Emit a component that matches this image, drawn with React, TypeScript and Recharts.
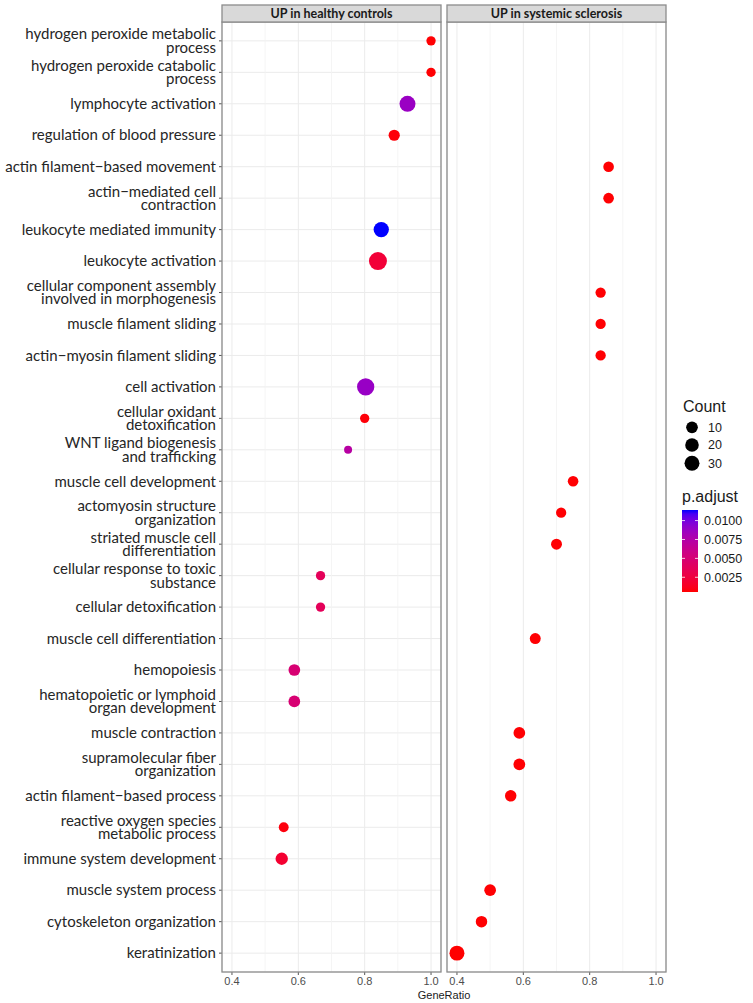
import React from 'react';
import { ScatterChart, Scatter, XAxis, YAxis, ZAxis, CartesianGrid, ReferenceLine } from 'recharts';

// ---------- data ----------
const categories = [
  'hydrogen peroxide metabolic\nprocess',
  'hydrogen peroxide catabolic\nprocess',
  'lymphocyte activation',
  'regulation of blood pressure',
  'actin filament\u2212based movement',
  'actin\u2212mediated cell\ncontraction',
  'leukocyte mediated immunity',
  'leukocyte activation',
  'cellular component assembly\ninvolved in morphogenesis',
  'muscle filament sliding',
  'actin\u2212myosin filament sliding',
  'cell activation',
  'cellular oxidant\ndetoxification',
  'WNT ligand biogenesis\nand trafficking',
  'muscle cell development',
  'actomyosin structure\norganization',
  'striated muscle cell\ndifferentiation',
  'cellular response to toxic\nsubstance',
  'cellular detoxification',
  'muscle cell differentiation',
  'hemopoiesis',
  'hematopoietic or lymphoid\norgan development',
  'muscle contraction',
  'supramolecular fiber\norganization',
  'actin filament\u2212based process',
  'reactive oxygen species\nmetabolic process',
  'immune system development',
  'muscle system process',
  'cytoskeleton organization',
  'keratinization',
];

const healthyTerms = [
  'hydrogen peroxide metabolic\nprocess',
  'hydrogen peroxide catabolic\nprocess',
  'lymphocyte activation',
  'regulation of blood pressure',
  'leukocyte mediated immunity',
  'leukocyte activation',
  'cell activation',
  'cellular oxidant\ndetoxification',
  'WNT ligand biogenesis\nand trafficking',
  'cellular response to toxic\nsubstance',
  'cellular detoxification',
  'hemopoiesis',
  'hematopoietic or lymphoid\norgan development',
  'reactive oxygen species\nmetabolic process',
  'immune system development',
];
const healthyRatio = [1.0, 1.0, 0.929, 0.889, 0.85, 0.84, 0.803, 0.8, 0.75, 0.667, 0.667, 0.588, 0.588, 0.556, 0.55];
const healthyCount = [3, 3, 39, 8, 33, 60, 52, 3, 2, 3, 3, 10, 10, 4, 13];
const healthyPadj = [0.0006, 0.0006, 0.0087, 0.0007, 0.0114, 0.0022, 0.0088, 0.0007, 0.0072, 0.0037, 0.0037, 0.0049, 0.0049, 0.0008, 0.0019];

const sscTerms = [
  'actin filament\u2212based movement',
  'actin\u2212mediated cell\ncontraction',
  'cellular component assembly\ninvolved in morphogenesis',
  'muscle filament sliding',
  'actin\u2212myosin filament sliding',
  'muscle cell development',
  'actomyosin structure\norganization',
  'striated muscle cell\ndifferentiation',
  'muscle cell differentiation',
  'muscle contraction',
  'supramolecular fiber\norganization',
  'actin filament\u2212based process',
  'muscle system process',
  'cytoskeleton organization',
  'keratinization',
];
const sscRatio = [0.857, 0.857, 0.833, 0.833, 0.833, 0.75, 0.714, 0.7, 0.636, 0.588, 0.588, 0.562, 0.5, 0.474, 0.4];
const sscCount = [6, 6, 5, 5, 5, 6, 5, 7, 7, 10, 10, 9, 10, 9, 30];
const sscPadj = [0.0006, 0.0006, 0.0006, 0.0006, 0.0006, 0.0006, 0.0006, 0.0006, 0.0006, 0.0006, 0.0006, 0.0006, 0.0006, 0.0006, 0.00055];

const panelTitles = ['UP in healthy controls', 'UP in systemic sclerosis'];
const xTicks = [0.4, 0.6, 0.8, 1.0];
const xMinorTicks = [0.5, 0.7, 0.9];
const countLegend = [10, 20, 30];
const pLegendTicks = [0.0025, 0.005, 0.0075, 0.01];

// ---------- scales for colour / size ----------
const allP = [...healthyPadj, ...sscPadj];
const allC = [...healthyCount, ...sscCount];
const P_MIN = Math.min(...allP);
const P_MAX = Math.max(...allP);
const C_MIN = Math.min(...allC);
const C_MAX = Math.max(...allC);
const D_MIN = 8;
const D_MAX = 18;

const Xn = 0.95047, Yn = 1.0, Zn = 1.08883;
function toLin(c: number) { c /= 255; return c <= 0.04045 ? c / 12.92 : Math.pow((c + 0.055) / 1.055, 2.4); }
function toSrgb(v: number) { v = Math.max(0, Math.min(1, v)); const s = v <= 0.0031308 ? 12.92 * v : 1.055 * Math.pow(v, 1 / 2.4) - 0.055; return Math.round(s * 255); }
function f(t: number) { return t > 0.008856 ? Math.cbrt(t) : 7.787 * t + 16 / 116; }
function finv(t: number) { return t > 0.206893 ? t * t * t : (t - 16 / 116) / 7.787; }
function rgbToLab(rgb: number[]) {
  const [r, g, b] = rgb.map(toLin);
  const X = 0.4124 * r + 0.3576 * g + 0.1805 * b;
  const Y = 0.2126 * r + 0.7152 * g + 0.0722 * b;
  const Z = 0.0193 * r + 0.1192 * g + 0.9505 * b;
  const fx = f(X / Xn), fy = f(Y / Yn), fz = f(Z / Zn);
  return [116 * fy - 16, 500 * (fx - fy), 200 * (fy - fz)];
}
function labToRgb(lab: number[]) {
  const [L, a, bb] = lab;
  const fy = (L + 16) / 116, fx = fy + a / 500, fz = fy - bb / 200;
  const X = Xn * finv(fx), Y = Yn * finv(fy), Z = Zn * finv(fz);
  const r = 3.2406 * X - 1.5372 * Y - 0.4986 * Z;
  const g = -0.9689 * X + 1.8758 * Y + 0.0415 * Z;
  const b = 0.0557 * X - 0.204 * Y + 1.057 * Z;
  return `rgb(${toSrgb(r)},${toSrgb(g)},${toSrgb(b)})`;
}
const LAB_LOW = rgbToLab([255, 0, 0]);
const LAB_HIGH = rgbToLab([0, 0, 255]);
function colorAt(t: number) {
  t = Math.max(0, Math.min(1, t));
  return labToRgb(LAB_LOW.map((v, i) => v + (LAB_HIGH[i] - v) * t));
}
function pColor(p: number) { return colorAt((p - P_MIN) / (P_MAX - P_MIN)); }
function diamFromUnit(u: number) { return D_MIN + (D_MAX - D_MIN) * Math.sqrt(Math.max(0, u)); }

const healthyData = healthyTerms.map((t, i) => ({ term: t, idx: categories.indexOf(t), ratio: healthyRatio[i], count: healthyCount[i], p: healthyPadj[i] }));
const sscData = sscTerms.map((t, i) => ({ term: t, idx: categories.indexOf(t), ratio: sscRatio[i], count: sscCount[i], p: sscPadj[i] }));
const yTicks = categories.map((_, i) => i);

const LABEL_FONT = 'Lato, "Open Sans", sans-serif';
const ARIAL = '"Liberation Sans", Arial, sans-serif';

const Dot = (props: any) => {
  const { cx, cy, size, payload } = props;
  const u = typeof size === 'number' && isFinite(size) ? size : (payload.count - C_MIN) / (C_MAX - C_MIN);
  const d = diamFromUnit(u);
  return <circle cx={cx} cy={cy} r={d / 2} fill={pColor(payload.p)} />;
};

const YTick = (props: any) => {
  const { x, y, payload } = props;
  const lines = String(categories[payload.value] ?? '').split('\n');
  const lh = 13.4;
  const y0 = y - ((lines.length - 1) * lh) / 2;
  return (
    <text x={x} y={y0} textAnchor="end" fontFamily={LABEL_FONT} fontSize={15} fill="#262626">
      {lines.map((l, i) => (
        <tspan key={i} x={x} y={y0 + i * lh} dy="0.35em">{l}</tspan>
      ))}
    </text>
  );
};

const CHART_H = 1003;
const PANEL_TOP = 22;
const X_AXIS_H = 31;

function Panel({ data, width, marginLeft, showY }: { data: any[]; width: number; marginLeft: number; showY: boolean }) {
  return (
    <ScatterChart width={width} height={CHART_H} margin={{ top: PANEL_TOP, right: 4, bottom: 0, left: marginLeft }}>
      <CartesianGrid stroke="#EBEBEB" strokeWidth={1} horizontal vertical />
      {xMinorTicks.map((v) => (
        <ReferenceLine key={v} x={v} stroke="#F2F2F2" strokeWidth={0.8} ifOverflow="hidden" />
      ))}
      <XAxis
        type="number"
        dataKey="ratio"
        domain={[0.37, 1.03]}
        allowDataOverflow
        ticks={xTicks}
        tickFormatter={(v: number) => v.toFixed(1)}
        height={X_AXIS_H}
        axisLine={false}
        tickLine={{ stroke: '#555555' }}
        tickSize={3}
        tickMargin={2}
        tick={{ fontFamily: ARIAL, fontSize: 11, fill: '#4D4D4D' }}
        interval={0}
      />
      <YAxis
        type="number"
        dataKey="idx"
        domain={[-0.6, categories.length - 0.4]}
        allowDataOverflow
        reversed
        ticks={yTicks}
        interval={0}
        width={showY ? 222 : 0}
        axisLine={false}
        tickLine={showY ? { stroke: '#555555' } : false}
        tickSize={3}
        tickMargin={3}
        tick={showY ? <YTick /> : false}
      />
      <ZAxis type="number" dataKey="count" domain={[C_MIN, C_MAX]} range={[0, 1]} />
      <Scatter data={data} isAnimationActive={false} shape={<Dot />} />
    </ScatterChart>
  );
}

const panels = [
  { x0: 222, x1: 441 },
  { x0: 447, x1: 666 },
];

export default function App() {
  const legendX = 692;
  const countY = [427.3, 445, 463.3];
  const barTop = 510, barBot = 592, barX = 682, barW = 16;
  const pToY = (p: number) => barBot - ((p - P_MIN) / (P_MAX - P_MIN)) * (barBot - barTop);
  const stops = Array.from({ length: 21 }, (_, i) => i / 20);
  return (
    <div style={{ position: 'absolute', left: 0, top: 0, width: 753, height: 1003, background: '#fff', overflow: 'hidden' }}>
      <div style={{ position: 'absolute', left: 0, top: 0 }}>
        <Panel data={healthyData} width={445} marginLeft={0} showY />
      </div>
      <div style={{ position: 'absolute', left: 441, top: 0 }}>
        <Panel data={sscData} width={229} marginLeft={6} showY={false} />
      </div>
      <svg width={753} height={1003} style={{ position: 'absolute', left: 0, top: 0, pointerEvents: 'none' }}>
        <defs>
          <linearGradient id="pgrad" x1="0" y1="1" x2="0" y2="0">
            {stops.map((s) => (
              <stop key={s} offset={s} stopColor={colorAt(s)} />
            ))}
          </linearGradient>
        </defs>
        {panels.map((p, i) => (
          <g key={i}>
            <rect x={p.x0} y={PANEL_TOP} width={p.x1 - p.x0} height={972 - PANEL_TOP} fill="none" stroke="#8C8C8C" strokeWidth={1.3} />
            <rect x={p.x0} y={5} width={p.x1 - p.x0} height={PANEL_TOP - 5} fill="#D9D9D9" stroke="#8C8C8C" strokeWidth={1.3} />
            <text x={(p.x0 + p.x1) / 2} y={13.5} dy="0.35em" textAnchor="middle" fontFamily={LABEL_FONT} fontWeight="bold" fontSize={12.5} fill="#1A1A1A">
              {panelTitles[i]}
            </text>
          </g>
        ))}
        <text x={444} y={995} dy="0.35em" textAnchor="middle" fontFamily={ARIAL} fontSize={11} fill="#1A1A1A">GeneRatio</text>

        <text x={683} y={412} fontFamily={ARIAL} fontSize={16} fill="#1A1A1A">Count</text>
        {countLegend.map((c, i) => (
          <g key={c}>
            <circle cx={legendX} cy={countY[i]} r={diamFromUnit((c - C_MIN) / (C_MAX - C_MIN)) / 2} fill="#000" />
            <text x={708} y={countY[i]} dy="0.35em" fontFamily={ARIAL} fontSize={12.5} fill="#1A1A1A">{c}</text>
          </g>
        ))}

        <text x={682} y={502} fontFamily={ARIAL} fontSize={16} fill="#1A1A1A">p.adjust</text>
        <rect x={barX} y={barTop} width={barW} height={barBot - barTop} fill="url(#pgrad)" />
        {pLegendTicks.map((t) => (
          <g key={t}>
            <line x1={barX} x2={barX + 3} y1={pToY(t)} y2={pToY(t)} stroke="#fff" strokeWidth={0.8} />
            <line x1={barX + barW - 3} x2={barX + barW} y1={pToY(t)} y2={pToY(t)} stroke="#fff" strokeWidth={0.8} />
            <text x={704} y={pToY(t)} dy="0.35em" fontFamily={ARIAL} fontSize={12.5} fill="#1A1A1A">{t.toFixed(4)}</text>
          </g>
        ))}
      </svg>
    </div>
  );
}
